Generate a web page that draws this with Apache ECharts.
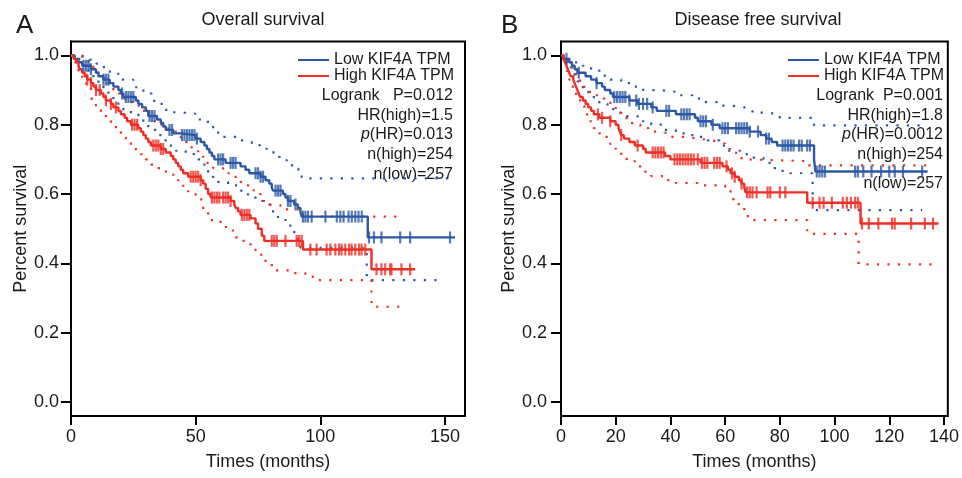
<!DOCTYPE html>
<html>
<head>
<meta charset="utf-8">
<script src="https://cdn.jsdelivr.net/npm/echarts@6/dist/echarts.min.js"></script>
<style>
html,body{margin:0;padding:0;background:#fff;}
#chart{width:962px;height:478px;}
</style>
</head>
<body>
<div id="chart"></div>
<script>
// ---------------- DATA ----------------
// Panel A : Overall survival  (steps: [time, survival after time])
const osLowSteps = [[0,1],[1.5,0.99],[3,0.98],[4.5,0.97],[8,0.96],[10,0.95],[11,0.94],[13,0.93],[15.5,0.92],[17,0.91],[19,0.90],[20,0.89],[21,0.88],[26,0.87],[27,0.86],[28.5,0.85],[30,0.84],[31,0.825],[34.5,0.815],[36,0.805],[37,0.795],[38,0.785],[41,0.775],[44,0.77],[50,0.76],[52,0.75],[53.5,0.74],[54.5,0.73],[55.5,0.72],[56.5,0.71],[57.5,0.70],[62,0.69],[68,0.68],[70,0.67],[71.5,0.66],[76,0.65],[78,0.64],[79.5,0.63],[80.5,0.62],[81,0.61],[85,0.60],[86,0.59],[87,0.58],[89.5,0.57],[91,0.56],[92,0.55],[92.5,0.535],[119,0.475]];
const osLowEnd = 154;
const osLowCensor = [5,6,7,8,13,14,15,20.5,22,23,24,25,31.5,32.5,33.5,39.5,40.5,44.5,45.5,46.5,47.5,48.5,49.5,50.5,59,60,61,64,65,66,74,75,76,77,82,83,84,87,88,90,93,94,95,96.5,102,106.6,108,109.3,111.3,112.6,114,115.3,116.6,119.5,121.5,124.5,132,136,152];
const osLowUpper = [[0,1],[3.6,0.995],[6.9,0.988],[10.2,0.976],[12.3,0.966],[15.6,0.947],[19.7,0.93],[25,0.908],[29,0.89],[32.4,0.869],[35,0.86],[37,0.843],[40.4,0.836],[43.7,0.832],[49.8,0.815],[53,0.808],[57,0.779],[59,0.765],[66.5,0.755],[69.8,0.75],[72.5,0.741],[75.8,0.731],[78.5,0.725],[81.2,0.707],[83.8,0.698],[86.5,0.683],[89.2,0.674],[91.2,0.664],[92.5,0.645]];
const osLowUpperEnd = 151;
const osLowLower = [[0,1],[2,0.99],[3.5,0.975],[5,0.96],[7,0.945],[9,0.93],[11,0.915],[13,0.90],[15,0.885],[17,0.87],[19,0.855],[21,0.84],[24,0.83],[27,0.815],[29,0.80],[31,0.785],[34,0.77],[37,0.755],[39,0.74],[42,0.725],[46,0.715],[51,0.70],[53,0.685],[55,0.66],[57,0.645],[59,0.635],[63,0.625],[68,0.61],[71,0.59],[75,0.58],[78,0.57],[80,0.55],[83,0.53],[86,0.51],[88,0.49],[90,0.47],[92,0.445],[118.6,0.352]];
const osLowLowerEnd = 148.7;

const osHighSteps = [[0,1],[1,0.99],[2,0.98],[3,0.97],[3.5,0.96],[4.5,0.95],[5.5,0.94],[6.5,0.93],[8,0.92],[9,0.91],[10,0.90],[12,0.89],[13,0.88],[14,0.87],[16,0.86],[17,0.85],[19,0.84],[20,0.83],[21.5,0.82],[22.5,0.81],[24,0.80],[27,0.79],[28,0.78],[29,0.77],[30,0.76],[31,0.75],[32,0.74],[36,0.73],[38,0.72],[40,0.71],[41,0.70],[42,0.69],[43,0.68],[44,0.67],[45,0.66],[47,0.65],[52,0.64],[53,0.63],[54,0.615],[55,0.60],[56,0.59],[64,0.58],[65.5,0.57],[66,0.56],[67,0.55],[68,0.54],[72,0.53],[74,0.515],[75,0.50],[76.5,0.48],[77.5,0.465],[93,0.44],[120.5,0.383]];
const osHighEnd = 138;
const osHighCensor = [6.5,8,10,11.5,14,16,18,24.5,25.5,26.5,33,34,35,36,37,48,49,50,51,52,56.5,57.5,58.5,59.5,61,62,63,64,68.5,69.5,70.5,71.5,80.5,81.5,82.5,86,90.5,91.5,92.5,96,98.5,102.5,104,106,107.5,108.5,110,111.5,112.5,114,115.5,116.5,118,122.5,124.5,126,128,128.5,132.5,136];
const osHighUpper = [[0,1],[3,0.995],[5,0.985],[7,0.97],[9,0.96],[11,0.945],[13,0.93],[15,0.915],[17,0.90],[19,0.89],[21,0.875],[23,0.865],[25,0.855],[28,0.84],[30,0.825],[33,0.81],[36,0.80],[39,0.785],[42,0.765],[44,0.75],[47,0.735],[51,0.72],[53,0.69],[57,0.675],[61,0.66],[66,0.645],[68,0.635],[71,0.611],[74.5,0.60],[77,0.58],[80,0.568],[84,0.556],[93,0.535]];
const osHighUpperEnd = 132;
const osHighLower = [[0,1],[1.5,0.98],[3,0.955],[4.5,0.93],[6,0.905],[8,0.875],[10,0.855],[12,0.835],[14,0.815],[16,0.80],[18,0.785],[20,0.77],[22,0.755],[24,0.74],[26,0.725],[28,0.715],[30,0.70],[32,0.685],[35,0.675],[38,0.665],[41,0.645],[43,0.63],[45,0.615],[47,0.60],[50,0.585],[53,0.555],[55,0.525],[60,0.505],[64,0.495],[66,0.475],[68,0.465],[72,0.44],[74,0.425],[78,0.395],[82,0.38],[88,0.372],[94,0.362],[97,0.352],[120.5,0.275]];
const osHighLowerEnd = 133;

// Panel B : Disease free survival
const dfsLowSteps = [[0,1],[1,0.99],[3,0.98],[4,0.97],[5,0.96],[6,0.95],[9,0.94],[11,0.93],[13,0.92],[15,0.91],[16,0.90],[18,0.89],[19,0.88],[25,0.87],[28,0.86],[33,0.85],[35,0.84],[42,0.83],[49,0.82],[50,0.81],[55,0.80],[58,0.79],[69,0.78],[73,0.77],[75,0.76],[77,0.75],[79,0.74],[92.5,0.70],[93,0.665]];
const dfsLowEnd = 134;
const dfsLowCensor = [2,6.5,13,19.5,20.5,21.5,22.5,23.5,25,27.5,28.5,30,31.5,33.5,38.5,39.5,44,45,46,47,51,52,53,55.5,59,60,61,64,65,66,67,68,69,72,75,76,81,82,83,84,85,87,88,90,91,93.5,94.5,95.5,96.5,107.5,108.5,110.5,113.5,117,120,122,125,132];
const dfsLowUpper = [[0,1],[3,0.99],[5,0.98],[8,0.97],[11,0.96],[14,0.95],[16,0.94],[18,0.93],[22,0.92],[26,0.91],[30,0.90],[36,0.895],[42,0.885],[48,0.875],[52,0.865],[57,0.855],[62,0.85],[67,0.845],[70,0.835],[75,0.83],[80,0.82],[92.5,0.798]];
const dfsLowUpperEnd = 132.5;
const dfsLowLower = [[0,1],[1.5,0.985],[3,0.965],[4.5,0.945],[6,0.925],[8,0.905],[10,0.89],[12,0.875],[14,0.86],[17,0.845],[20,0.835],[24,0.825],[28,0.81],[33,0.80],[37,0.785],[42,0.775],[48,0.765],[53,0.755],[58,0.74],[61,0.725],[66,0.715],[70,0.705],[74,0.69],[78,0.675],[81,0.66],[92,0.554]];
const dfsLowLowerEnd = 132;

const dfsHighSteps = [[0,1],[0.8,0.99],[1.5,0.98],[2,0.97],[2.5,0.96],[3,0.95],[3.5,0.94],[4.5,0.93],[5,0.92],[5.5,0.91],[6,0.90],[6.5,0.89],[7,0.88],[8,0.87],[9,0.86],[10,0.85],[11,0.84],[12,0.83],[14,0.82],[18,0.81],[20,0.80],[21,0.79],[21.5,0.78],[22,0.77],[23,0.76],[25,0.75],[27,0.74],[30,0.73],[31,0.72],[38,0.71],[40,0.70],[51,0.69],[59,0.68],[61,0.67],[62,0.66],[63.5,0.65],[65,0.64],[66,0.63],[67,0.62],[67.5,0.605],[90,0.575],[109.5,0.515]];
const dfsHighEnd = 138;
const dfsHighCensor = [13.5,15,18,22,28,33.5,34.5,35.5,36.5,37.5,41.5,42.5,43.5,44.5,45.5,46.5,47.5,48.5,50,51.5,52.5,53.5,56,57,58,60.5,62.5,63.5,66,68,69,70,71.5,75.5,76.5,80,82,92,94.5,96,99,103,104.5,106,107.5,108.5,110,112.5,116,121,122,128,133,136];
const dfsHighUpper = [[0,1],[1.5,0.995],[2.5,0.98],[3.5,0.965],[4.5,0.95],[5.5,0.935],[7,0.92],[8.5,0.905],[10,0.895],[12,0.885],[14,0.875],[16,0.865],[18,0.855],[20,0.845],[22,0.83],[24,0.815],[26,0.80],[29,0.79],[32,0.78],[35,0.775],[40,0.765],[45,0.76],[50,0.755],[55,0.75],[58,0.745],[60,0.73],[62,0.72],[64,0.71],[66,0.70],[68,0.695],[90,0.683]];
const dfsHighUpperEnd = 136;
const dfsHighLower = [[0,1],[1,0.98],[2,0.955],[3,0.93],[4.3,0.905],[5.5,0.88],[7,0.855],[8.5,0.83],[10,0.81],[12,0.79],[14,0.775],[16,0.765],[18,0.745],[20,0.73],[22,0.71],[24,0.695],[27,0.68],[30,0.665],[33,0.652],[38,0.64],[42,0.632],[50,0.625],[60,0.61],[62,0.595],[63,0.575],[65,0.56],[67,0.544],[68.3,0.525],[90,0.485],[108.8,0.397]];
const dfsHighLowerEnd = 136;

// axis tick values and labels
const osXTicks = [0, 50, 100, 150];
const dfsXTicks = [0, 20, 40, 60, 80, 100, 120, 140];
const yTicks = [0, 0.2, 0.4, 0.6, 0.8, 1.0];
const seriesNames = ['Low KIF4A TPM', 'High KIF4A TPM'];
const panelTitles = ['Overall survival', 'Disease free survival'];
const panelLetters = ['A', 'B'];
const osStats = ['Logrank   P=0.012', 'HR(high)=1.5', '{i|p}(HR)=0.013', 'n(high)=254', 'n(low)=257'];
const dfsStats = ['Logrank  P=0.001', 'HR(high)=1.8', '{i|p}(HR)=0.0012', 'n(high)=254', 'n(low)=257'];

// ---------------- STYLE / BUILD ----------------
const FONT = "'Liberation Sans', Arial, Helvetica, sans-serif";
const BLUE = '#2c58a6';
const RED = '#ec2f27';
const TXT = '#1a1a1a';

function stepData(steps, end) {
  const d = steps.map(p => [p[0], p[1]]);
  d.push([end, steps[steps.length - 1][1]]);
  return d;
}
function survAt(steps, t) {
  let s = steps[0][1];
  for (const p of steps) { if (p[0] <= t) s = p[1]; else break; }
  return s;
}
function censorData(steps, times) { return times.map(t => [t, survAt(steps, t)]); }

function bandSeries(idx, steps, end, color) {
  return { type: 'line', xAxisIndex: idx, yAxisIndex: idx, step: 'end', symbol: 'none', silent: true,
    data: stepData(steps, end), lineStyle: { color: color, width: 2.2, type: [2.2, 8.3] }, z: 2 };
}
function curveSeries(idx, name, steps, end, color) {
  return { type: 'line', name: name, xAxisIndex: idx, yAxisIndex: idx, step: 'end', symbol: 'none', silent: true,
    data: stepData(steps, end), itemStyle: { color: color }, lineStyle: { color: color, width: 2.4 }, z: 3 };
}
function censorSeries(idx, steps, times, color) {
  return { type: 'scatter', xAxisIndex: idx, yAxisIndex: idx, symbol: 'rect', symbolSize: [2.2, 12], silent: true,
    data: censorData(steps, times), itemStyle: { color: color }, z: 4 };
}

function xAxisOf(idx, max, ticks, interval) {
  return { gridIndex: idx, type: 'value', min: 0, max: max, interval: interval,
    axisLine: { show: true, onZero: false, lineStyle: { color: '#000', width: 2 } },
    axisTick: { show: true, length: 9, lineStyle: { color: '#000', width: 2 }, customValues: ticks },
    axisLabel: { fontSize: 18, color: TXT, fontFamily: FONT, margin: 12, customValues: ticks },
    splitLine: { show: false },
    name: 'Times (months)', nameLocation: 'middle', nameGap: 37,
    nameTextStyle: { fontSize: 18, color: TXT, fontFamily: FONT } };
}
function yAxisOf(idx, margin, gap) {
  return { gridIndex: idx, type: 'value', min: -0.04, max: 1.04,
    axisLine: { show: true, onZero: false, lineStyle: { color: '#000', width: 2 } },
    axisTick: { show: true, length: 10, lineStyle: { color: '#000', width: 2 }, customValues: yTicks },
    axisLabel: { fontSize: 18, color: TXT, fontFamily: FONT, margin: margin, customValues: yTicks,
      formatter: v => Number(v).toFixed(1) },
    splitLine: { show: false },
    name: 'Percent survival', nameLocation: 'middle', nameGap: gap,
    nameTextStyle: { fontSize: 18, color: TXT, fontFamily: FONT } };
}
function legendOf(left) {
  return { data: seriesNames, orient: 'vertical', left: left, top: 52, padding: 0, itemGap: 0,
    itemWidth: 31, itemHeight: 2, icon: 'rect', selectedMode: false,
    textStyle: { fontSize: 16, color: TXT, fontFamily: FONT, lineHeight: 16 } };
}
function statTexts(lines, xRight, ys) {
  return lines.map((t, i) => ({ type: 'text', x: xRight, y: ys[i], silent: true,
    style: { text: t, fill: TXT, font: '16px ' + FONT, fontSize: 16, fontFamily: FONT,
      textAlign: 'right', textVerticalAlign: 'middle', align: 'right', verticalAlign: 'middle',
      rich: { i: { fontStyle: 'italic', fontSize: 16, fontFamily: FONT, fill: TXT, color: TXT } } } }));
}
function plainText(text, x, y, size, align) {
  return { type: 'text', x: x, y: y, silent: true,
    style: { text: text, fill: TXT, font: size + 'px ' + FONT, textAlign: align, textVerticalAlign: 'middle',
      align: align, verticalAlign: 'middle' } };
}

const chart = echarts.init(document.getElementById('chart'), null, { renderer: 'canvas' });
chart.setOption({
  animation: false,
  backgroundColor: '#fff',
  grid: [
    { left: 71, top: 41.5, width: 394, height: 374.5, show: true, borderColor: '#000', borderWidth: 2 },
    { left: 561, top: 41.5, width: 393, height: 374.5, show: true, borderColor: '#000', borderWidth: 2 }
  ],
  xAxis: [xAxisOf(0, 158, osXTicks, 50), xAxisOf(1, 141.4, dfsXTicks, 20)],
  yAxis: [yAxisOf(0, 12, 41), yAxisOf(1, 14, 43)],
  legend: [legendOf(298), legendOf(788)],
  series: [
    bandSeries(0, osLowUpper, osLowUpperEnd, BLUE),
    bandSeries(0, osLowLower, osLowLowerEnd, BLUE),
    bandSeries(0, osHighUpper, osHighUpperEnd, RED),
    bandSeries(0, osHighLower, osHighLowerEnd, RED),
    curveSeries(0, seriesNames[0], osLowSteps, osLowEnd, BLUE),
    curveSeries(0, seriesNames[1], osHighSteps, osHighEnd, RED),
    censorSeries(0, osLowSteps, osLowCensor, BLUE),
    censorSeries(0, osHighSteps, osHighCensor, RED),

    bandSeries(1, dfsLowUpper, dfsLowUpperEnd, BLUE),
    bandSeries(1, dfsLowLower, dfsLowLowerEnd, BLUE),
    bandSeries(1, dfsHighUpper, dfsHighUpperEnd, RED),
    bandSeries(1, dfsHighLower, dfsHighLowerEnd, RED),
    curveSeries(1, seriesNames[0], dfsLowSteps, dfsLowEnd, BLUE),
    curveSeries(1, seriesNames[1], dfsHighSteps, dfsHighEnd, RED),
    censorSeries(1, dfsLowSteps, dfsLowCensor, BLUE),
    censorSeries(1, dfsHighSteps, dfsHighCensor, RED)
  ],
  graphic: [
    plainText(panelLetters[0], 16, 26, 26, 'left'),
    plainText(panelLetters[1], 501, 26, 26, 'left'),
    plainText(panelTitles[0], 263, 20, 18, 'center'),
    plainText(panelTitles[1], 758, 20, 18, 'center')
  ].concat(statTexts(osStats, 453, [95.7, 115.3, 134.9, 154.5, 174.1]))
   .concat(statTexts(dfsStats, 943, [95.7, 115.3, 134.9, 154.8, 184]))
});
</script>
</body>
</html>
